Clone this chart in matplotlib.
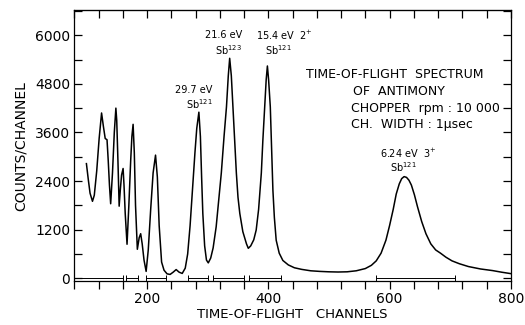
import matplotlib
matplotlib.use('Agg')
import matplotlib.pyplot as plt

plt.rcParams['font.family'] = ['DejaVu Sans']
plt.rcParams['mathtext.default'] = 'regular'

# spectrum (channel, counts/channel)
channels = [100, 103, 106, 110, 113, 117, 121, 125, 128, 131, 134, 136, 138, 140,
            143, 146, 148.6, 150, 152, 154, 156, 158, 160.5, 162, 164, 167, 170,
            173, 175, 177, 179, 181, 184, 187, 189.5, 192, 195, 198.5, 202, 206,
            210, 214, 217, 220, 224, 228, 233, 238, 243, 248, 253, 258, 263, 267,
            271, 275, 279, 282, 285.5, 288, 290, 292, 295, 298, 301, 305, 309,
            314, 318, 322.5, 327, 331, 334, 336.3, 339, 341.7, 344.5, 347.3, 350,
            353, 358, 364, 367, 371, 376, 380, 384, 388.5, 391, 394, 396.5, 398.5,
            400.5, 403.3, 405.5, 407.6, 410, 413, 418, 424, 433, 443, 455, 470,
            485, 500, 515, 530, 545, 560, 570, 578, 586, 594, 600, 606, 611, 616,
            620, 624, 628, 632, 636, 641, 646, 653, 660, 668, 676, 684, 693, 703,
            715, 730, 750, 770, 785, 800]
counts = [2830, 2450, 2100, 1900, 2050, 2650, 3450, 4080, 3750, 3450, 3420, 2900,
          2300, 1840, 2600, 3600, 4200, 3900, 2900, 1780, 2200, 2550, 2710, 2300,
          1600, 840, 1800, 2900, 3500, 3800, 3100, 1800, 716, 1000, 1100, 850, 450,
          170, 700, 1700, 2600, 3040, 2500, 1300, 400, 200, 110, 95, 150, 215, 150,
          120, 250, 600, 1300, 2200, 3100, 3700, 4100, 3500, 2500, 1600, 800, 450,
          380, 500, 750, 1270, 1900, 2600, 3500, 4230, 5000, 5430, 5000, 4230,
          3400, 2600, 2000, 1600, 1150, 850, 740, 800, 950, 1190, 1700, 2600,
          3400, 4230, 4900, 5240, 4900, 4230, 3200, 2170, 1500, 940, 620, 440,
          330, 260, 220, 185, 170, 160, 155, 160, 185, 240, 320, 430, 620, 940,
          1300, 1700, 2080, 2330, 2460, 2510, 2490, 2420, 2300, 2060, 1770, 1400,
          1100, 850, 700, 620, 520, 430, 360, 290, 230, 190, 150, 115]

# channel-width bars along the baseline
bar_start = [80, 165, 199, 268, 308, 368, 577]
bar_end = [160, 185, 231, 300, 360, 421, 708]

# peak labels
peak_energy = ['29.7 eV', '21.6 eV', '15.4 eV  2$^{+}$', '6.24 eV  3$^{+}$']
peak_energy_x = [277, 326, 427, 631]
peak_energy_y = [4640, 6000, 6000, 3080]
peak_isotope = ['Sb$^{121}$', 'Sb$^{123}$', 'Sb$^{121}$', 'Sb$^{121}$']
peak_isotope_x = [286, 334, 416, 623]
peak_isotope_y = [4310, 5640, 5640, 2740]

fig = plt.figure(figsize=(5.25, 3.25), dpi=100)
ax = fig.add_axes([0.1415, 0.135, 0.8315, 0.834])

ax.plot(channels, counts, color='black', linewidth=1.1)

centers = [(a + b) / 2 for a, b in zip(bar_start, bar_end)]
half = [(b - a) / 2 for a, b in zip(bar_start, bar_end)]
ax.errorbar(centers, [15] * len(centers), xerr=half, fmt='none',
            ecolor='black', elinewidth=0.7, capsize=2.5, capthick=0.7)

ax.set_xlim(80, 800)
ax.set_ylim(-70, 6620)

ax.set_xticks(range(80, 801, 40))
ax.set_xticklabels([str(v) if v % 200 == 0 else '' for v in range(80, 801, 40)])
ax.set_yticks(range(0, 6601, 600))
ax.set_yticklabels([str(v) if v % 1200 == 0 else '' for v in range(0, 6601, 600)])

ax.tick_params(axis='x', direction='out', length=6, width=0.9, labelsize=10, pad=2)
ax.tick_params(axis='y', direction='in', length=6, width=0.9, labelsize=10,
               right=True, pad=3)
top = ax.secondary_xaxis('top')
top.set_xticks(range(80, 801, 40))
top.tick_params(direction='in', length=6, width=0.9, labeltop=False)

for s in ax.spines.values():
    s.set_linewidth(0.9)

ax.set_xlabel('TIME-OF-FLIGHT   CHANNELS', fontsize=9.5, labelpad=1)
ax.set_ylabel('COUNTS/CHANNEL', fontsize=10, labelpad=5)

for i in range(len(peak_energy)):
    ax.text(peak_energy_x[i], peak_energy_y[i], peak_energy[i], fontsize=7,
            ha='center', va='center')
    ax.text(peak_isotope_x[i], peak_isotope_y[i], peak_isotope[i], fontsize=7,
            ha='center', va='center')

ax.text(609, 5030, 'TIME-OF-FLIGHT  SPECTRUM', fontsize=9, ha='center', va='center')
ax.text(616, 4620, 'OF  ANTIMONY', fontsize=9, ha='center', va='center')
ax.text(537, 4200, 'CHOPPER  rpm : 10 000', fontsize=9, ha='left', va='center')
ax.text(537, 3790, 'CH.  WIDTH : 1\u03bcsec', fontsize=9, ha='left', va='center')

fig.savefig('out.png', dpi=100)
